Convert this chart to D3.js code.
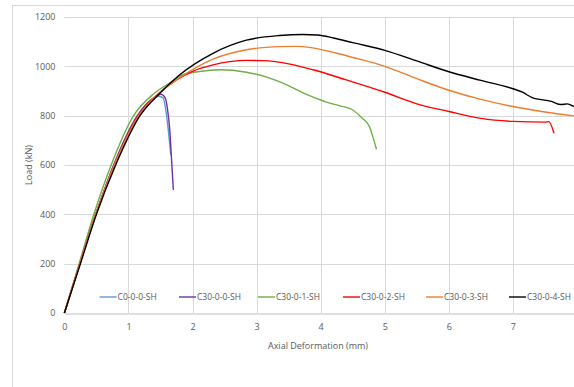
<!DOCTYPE html>
<html><head><meta charset="utf-8">
<script src="https://cdn.jsdelivr.net/npm/d3@7"></script>
<style>
body{margin:0;background:#fff;}
svg{display:block;}
text{font-family:"Open Sans","DejaVu Sans",sans-serif;fill:#595959;}
</style></head>
<body>
<svg id="chart" width="574" height="387"></svg>
<script>
const seriesNames = ["C0-0-0-SH","C30-0-0-SH","C30-0-1-SH","C30-0-2-SH","C30-0-3-SH","C30-0-4-SH"];
const seriesColors = ["#5B9BD5","#7030A0","#70AD47","#FF0000","#ED7D31","#000000"];
const xTicks = [0,1,2,3,4,5,6,7,8];
const yTicks = [0,200,400,600,800,1000,1200];

const c0_0_0 = [[0,0],[0.24,200],[0.49,400],[0.77,600],[1.14,800],[1.35,862],[1.47,879],[1.54,872],[1.59,810],[1.63,720],[1.66,640]];
const c30_0_0 = [[0,0],[0.24,200],[0.49,400],[0.77,600],[1.14,800],[1.36,866],[1.51,887],[1.57,874],[1.61,825],[1.645,740],[1.675,610],[1.70,500]];
const c30_0_1 = [[0,0],[0.23,200],[0.46,400],[0.73,600],[1.08,800],[1.40,890],[1.70,942],[1.80,961],[2.11,979],[2.43,986],[2.84,976],[3.16,956],[3.47,925],[3.78,886],[4.09,855],[4.3,840],[4.48,826],[4.64,792],[4.76,756],[4.82,709],[4.87,664]];
const c30_0_2 = [[0,0],[0.24,200],[0.49,400],[0.78,600],[1.15,800],[1.47,890],[1.75,945],[2.0,980],[2.32,1006],[2.58,1019],[2.85,1024],[3.10,1023],[3.52,1009],[3.88,986],[4.4,945],[5.0,895],[5.5,848],[6.0,817],[6.5,789],[7.0,777],[7.5,774],[7.56,776],[7.64,729]];
const c30_0_3 = [[0,0],[0.24,200],[0.49,400],[0.78,600],[1.16,800],[1.47,890],[1.75,945],[2.32,1029],[2.84,1067],[3.36,1080],[3.6,1081],[3.85,1076],[4.14,1060],[4.5,1036],[5.0,1000],[5.5,950],[6.0,903],[6.5,866],[7.0,837],[7.5,815],[7.95,799]];
const c30_0_4 = [[0,0],[0.25,200],[0.5,400],[0.8,600],[1.18,800],[1.49,891],[1.8,966],[2.32,1053],[2.84,1106],[3.36,1125],[3.72,1129],[3.95,1127],[4.2,1115],[4.5,1096],[5.0,1065],[5.5,1022],[6.0,978],[6.5,943],[7.0,909],[7.15,895],[7.3,873],[7.6,858],[7.75,845],[7.85,848],[7.95,837]];
const seriesData = [c0_0_0,c30_0_0,c30_0_1,c30_0_2,c30_0_3,c30_0_4];

const svg = d3.select("#chart");
const x = d3.scaleLinear().domain([0,8]).range([64.4,577]);
const y = d3.scaleLinear().domain([0,1200]).range([313,17]);

// outer frame
svg.append("rect").attr("x",12.5).attr("y",5.5).attr("width",600).attr("height",420)
  .attr("fill","none").attr("stroke","#d9d9d9");

// gridlines
svg.append("g").selectAll("line").data(yTicks.filter(d=>d>0)).join("line")
  .attr("x1",x(0)).attr("x2",x(8)).attr("y1",d=>Math.round(y(d))+0.5).attr("y2",d=>Math.round(y(d))+0.5)
  .attr("stroke","#d9d9d9").attr("stroke-width",1);
svg.append("g").selectAll("line").data(xTicks.filter(d=>d>0)).join("line")
  .attr("y1",y(0)).attr("y2",y(1200)).attr("x1",d=>Math.round(x(d))+0.5).attr("x2",d=>Math.round(x(d))+0.5)
  .attr("stroke","#d9d9d9").attr("stroke-width",1);

// axes
const xAxis = svg.append("g").attr("transform",`translate(0,${Math.round(y(0))+0.5})`)
  .call(d3.axisBottom(x).tickValues(xTicks).tickSize(0).tickPadding(10).tickFormat(d3.format("d")));
xAxis.select(".domain").attr("stroke","#bfbfbf");
xAxis.selectAll("text").attr("font-size","9px").attr("fill","#595959");

const yAxis = svg.append("g").attr("transform",`translate(${Math.round(x(0))+0.5},0)`)
  .call(d3.axisLeft(y).tickValues(yTicks).tickSize(0).tickPadding(9).tickFormat(d3.format("d")));
yAxis.select(".domain").remove();
yAxis.selectAll("text").attr("font-size","9px").attr("fill","#595959");

// axis titles
svg.append("text").attr("x",318).attr("y",349).attr("text-anchor","middle")
  .attr("font-size","9px").text("Axial Deformation (mm)");
svg.append("text").attr("transform","translate(32,165) rotate(-90)").attr("text-anchor","middle")
  .attr("font-size","9px").text("Load (kN)");

// lines
const line = d3.line().x(d=>x(d[0])).y(d=>y(d[1])).curve(d3.curveMonotoneX);
const order = [0,1,2,3,4,5];
svg.append("g").selectAll("path").data(order).join("path")
  .attr("d",i=>line(seriesData[i])).attr("fill","none")
  .attr("stroke",i=>seriesColors[i]).attr("stroke-width",1.4);

// legend
const legX = [99.6,179,258,343,426,509];
const leg = svg.append("g").selectAll("g").data(seriesNames).join("g")
  .attr("transform",(d,i)=>`translate(${legX[i]},297)`);
leg.append("line").attr("x1",0).attr("x2",17).attr("y1",0).attr("y2",0)
  .attr("stroke",(d,i)=>seriesColors[i]).attr("stroke-width",1.4);
leg.append("text").attr("x",18).attr("y",3).attr("font-size","8.5px").text(d=>d);
</script>
</body></html>
